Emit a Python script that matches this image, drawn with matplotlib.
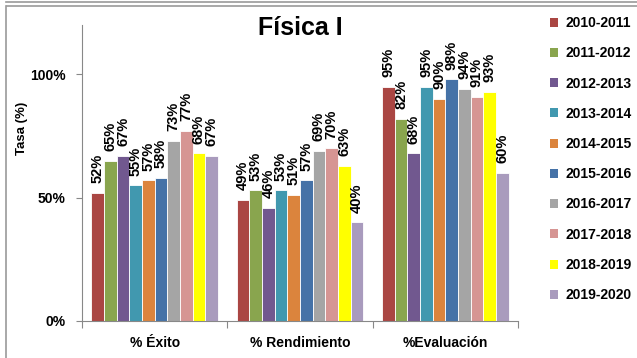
import numpy as np
import matplotlib.pyplot as plt
from matplotlib.patches import Patch
from matplotlib.lines import Line2D

plt.rcParams['font.family'] = ['Liberation Sans', 'DejaVu Sans']

# Data
categories = ['% Éxito', '% Rendimiento', '%Evaluación']
years = ['2010-2011', '2011-2012', '2012-2013', '2013-2014', '2014-2015',
         '2015-2016', '2016-2017', '2017-2018', '2018-2019', '2019-2020']
values = [
    [52, 49, 95],  # 2010-2011
    [65, 53, 82],  # 2011-2012
    [67, 46, 68],  # 2012-2013
    [55, 53, 95],  # 2013-2014
    [57, 51, 90],  # 2014-2015
    [58, 57, 98],  # 2015-2016
    [73, 69, 94],  # 2016-2017
    [77, 70, 91],  # 2017-2018
    [68, 63, 93],  # 2018-2019
    [67, 40, 60],  # 2019-2020
]
colors = ['#AA4643', '#89A54E', '#71588F', '#4198AF', '#DB843D',
          '#4572A7', '#A5A5A5', '#D69593', '#FFFF00', '#A99BBD']

fig = plt.figure(figsize=(6.37, 3.58), dpi=100)
ax = fig.add_axes([82/637, 37/358, 436/637, 296/358])

x = np.arange(len(categories))
n = len(years)
group_w = 0.87
w = group_w / n
for i in range(n):
    bars = ax.bar(x + (i - (n - 1) / 2) * w, values[i], w, color=colors[i],
                  edgecolor='white', linewidth=0.6, zorder=2)
    ax.bar_label(bars, labels=['%d%%' % v for v in values[i]], rotation=90,
                 padding=7, fontsize=10.5, fontweight='bold', color='black')

ax.set_xlim(-0.5, 2.5)
ax.set_ylim(0, 120)
ax.set_yticks([0, 50, 100])
ax.set_yticklabels(['0%', '50%', '100%'], fontsize=10, fontweight='bold')
ax.tick_params(axis='y', length=4, pad=8, color='#888888')

# category boundaries as major ticks, names as minor ticks
ax.set_xticks([-0.5, 0.5, 1.5, 2.5])
ax.set_xticklabels([])
ax.set_xticks(x, minor=True)
ax.set_xticklabels(categories, minor=True, fontsize=10, fontweight='bold')
ax.tick_params(axis='x', which='major', length=5, color='#888888')
ax.tick_params(axis='x', which='minor', length=0, pad=11)

for s in ['top', 'right']:
    ax.spines[s].set_visible(False)
for s in ['left', 'bottom']:
    ax.spines[s].set_color('#888888')

ax.set_ylabel('Tasa (%)', fontsize=9.5, fontweight='bold')
ax.yaxis.set_label_coords(-0.125, 0.652)

fig.text(300/637, 1 - 28/358, 'Física I', fontsize=18, fontweight='bold',
         ha='center', va='center')

handles = [Patch(facecolor=c, edgecolor='none') for c in colors]
fig.legend(handles, years, loc='upper left', bbox_to_anchor=(550/637, 1 - 16/358),
           frameon=False, prop={'size': 10, 'weight': 'bold'},
           handlelength=0.6, handleheight=0.6, handletextpad=0.5,
           labelspacing=1.17, borderpad=0, borderaxespad=0)

# outer frame
fig.add_artist(Line2D([6/637, 1], [1 - 1.5/358] * 2, color='#999999', lw=1.2))
fig.add_artist(Line2D([7/637, 1], [1 - 5.5/358] * 2, color='#999999', lw=1.2))
fig.add_artist(Line2D([6.5/637] * 2, [0, 1 - 5.5/358], color='#999999', lw=1.2))

fig.savefig('out.png', dpi=100)
